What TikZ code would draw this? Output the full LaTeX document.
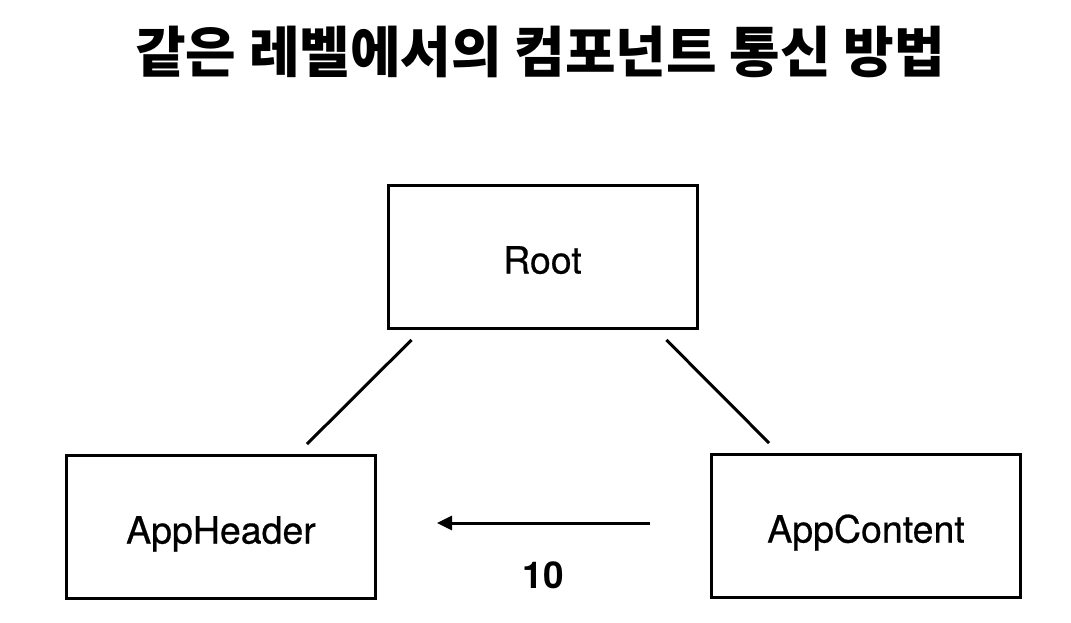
\documentclass[tikz,border=0pt]{standalone}
\usepackage{fontspec}
\setmainfont{TeX Gyre Heros}
\newfontfamily\labelfont[FakeBold=0.6]{TeX Gyre Heros}
\newfontfamily\krfont{Noto Sans CJK KR}
\usepackage{tikz}
\usetikzlibrary{arrows.meta, positioning}

\tikzset{
  compbox/.style={draw, line width=3pt, minimum width=309pt, minimum height=143pt, inner sep=0pt, text height=33pt, text depth=0pt, font=\labelfont\fontsize{37.5}{40}\selectfont},
  link/.style={line width=3pt, shorten <=14pt, shorten >=14pt},
  passarrow/.style={line width=3pt, -{Triangle[length=15pt,width=14pt]}, shorten <=60pt, shorten >=60pt}
}

\begin{document}
\begin{tikzpicture}[x=1pt,y=-1pt]
	\useasboundingbox (0,0) rectangle (1071,623);
	\node[font=\krfont\bfseries\fontsize{55}{60}\selectfont] at (540,52) (title) {같은 레벨에서의 컴포넌트 통신 방법};
	\node[compbox] at (542.5,257) (root) {Root};
	\node[compbox] at (221,527) (header) {AppHeader};
	\node[compbox] at (866,526) (content) {AppContent};
	\draw[link] ([xshift=35]root.south west) -- ([xshift=232]header.north west);
	\draw[link] ([xshift=-42]root.south east) -- ([xshift=69]content.north west);
	\draw[passarrow] ([yshift=3]content.west) -- ([yshift=4]header.east) node[midway,below=34pt,font=\bfseries\fontsize{37}{40}\selectfont] (num) {10};
\end{tikzpicture}
\end{document}
